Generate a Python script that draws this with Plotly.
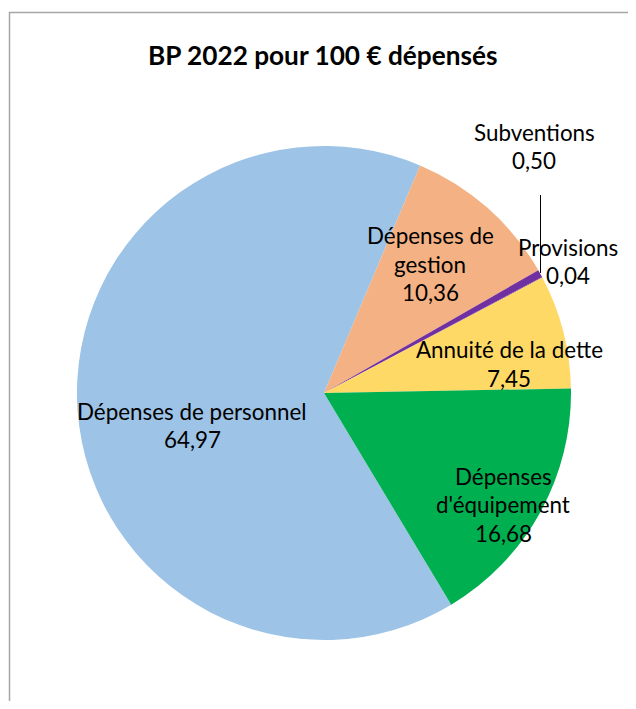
import plotly.graph_objects as go

# ---- data ----
labels = ["Dépenses de personnel", "Dépenses de gestion", "Subventions",
          "Provisions", "Annuité de la dette", "Dépenses d'équipement"]
label_lines = [["Dépenses de personnel"], ["Dépenses de", "gestion"], ["Subventions"],
               ["Provisions"], ["Annuité de la dette"], ["Dépenses", "d'équipement"]]
values = [64.97, 10.36, 0.50, 0.04, 7.45, 16.68]
colors = ["#9DC3E6", "#F4B183", "#7030A0", "#7030A0", "#FFD966", "#00B050"]
title = "BP 2022 pour 100 € dépensés"

# figure is placed at an 8px offset by the page body margin
OFF = 8
W, H = 628, 693
def px(x):
    return (x - OFF) / W
def py(y):
    return 1 - (y - OFF) / H

cx, cy, R = 324, 393, 247  # screen pixels

fig = go.Figure(go.Pie(
    labels=labels, values=values, sort=False, direction="clockwise",
    rotation=149, marker=dict(colors=colors, line=dict(width=0)),
    textinfo="none", hoverinfo="label+value", showlegend=False,
    domain=dict(x=[px(cx - R), px(cx + R)], y=[py(cy + R), py(cy - R)]),
))

# label anchor (screen pixel centre of first line) per slice
label_pos = [(192, 411), (430, 236), (534, 132), (568, 247), (509, 350), (503, 476)]
LS = 28.5
FONT = "Lato"
ann = []
for lines, v, (x, y) in zip(label_lines, values, label_pos):
    allines = lines + [f"{v:.2f}".replace(".", ",")]
    for i, t in enumerate(allines):
        ann.append(dict(text=t, x=px(x), y=py(y + i * LS), xref="paper", yref="paper",
                        showarrow=False, xanchor="center", yanchor="middle",
                        font=dict(family=FONT, size=22.4, color="#000000")))
ann.append(dict(text=f"<b>{title}</b>", x=px(322), y=py(55), xref="paper", yref="paper",
                showarrow=False, xanchor="center", yanchor="middle",
                font=dict(family=FONT, size=26.2, color="#000000")))

shapes = [
    dict(type="rect", xref="paper", yref="paper", x0=px(9.5), x1=1.2, y0=-0.2, y1=py(12.5),
         line=dict(color="#A6A6A6", width=1.5), fillcolor="rgba(0,0,0,0)"),
    dict(type="line", xref="paper", yref="paper", x0=px(540.5), x1=px(540.5),
         y0=py(195), y1=py(273), line=dict(color="#000000", width=1)),
]

fig.update_layout(width=W, height=H, margin=dict(l=0, r=0, t=0, b=0),
                  paper_bgcolor="white", plot_bgcolor="white",
                  annotations=ann, shapes=shapes)
fig.write_html("out.html")
